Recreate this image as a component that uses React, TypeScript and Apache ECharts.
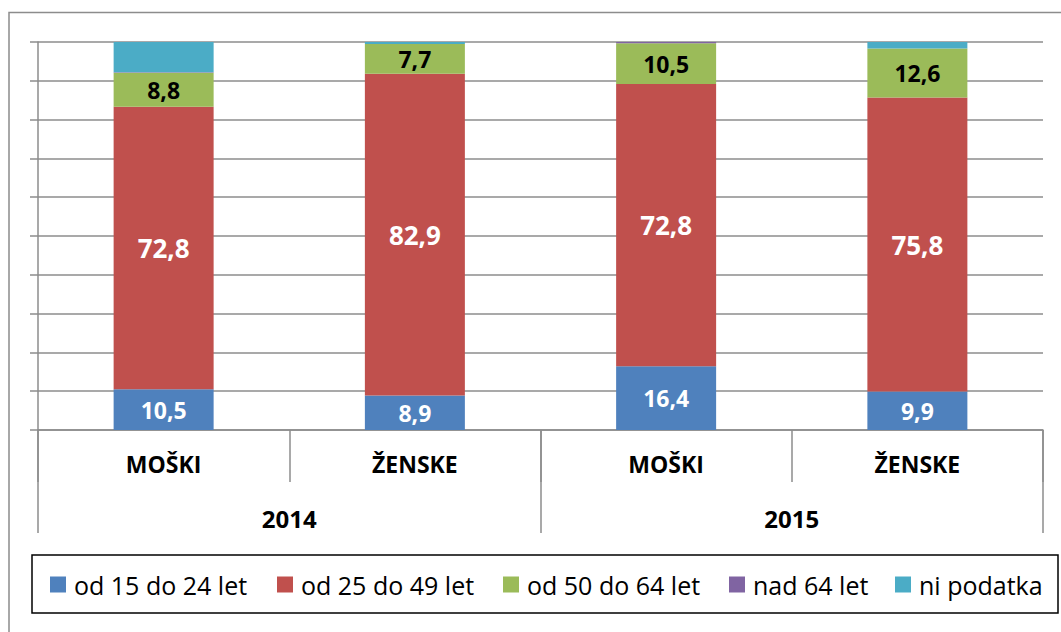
import React, { useEffect, useRef } from "react";
import * as echarts from "echarts";

const categories = ["MOŠKI", "ŽENSKE", "MOŠKI", "ŽENSKE"];
const years = ["2014", "2015"];
const seriesNames = ["od 15 do 24 let", "od 25 do 49 let", "od 50 do 64 let", "nad 64 let", "ni podatka"];
const age15to24 = [10.5, 8.9, 16.4, 9.9];
const age25to49 = [72.8, 82.9, 72.8, 75.8];
const age50to64 = [8.8, 7.7, 10.5, 12.6];
const over64 = [0.1, 0, 0.3, 0];
const noData = [7.8, 0.5, 0, 1.7];
const yTicks = [0, 10, 20, 30, 40, 50, 60, 70, 80, 90, 100];

const colors = ["#4F81BD", "#C0504D", "#9BBB59", "#8064A2", "#4BACC6"];
const FONT = "'Open Sans', sans-serif";

export default function App() {
  const ref = useRef<HTMLDivElement>(null);
  useEffect(() => {
    document.body.style.margin = "0";
    const chart = echarts.init(ref.current!, null, { renderer: "svg" });
    const values = [age15to24, age25to49, age50to64, over64, noData];
    const labelStyles = [
      { show: true, color: "#fff", fontSize: 23, fontWeight: "bold" },
      { show: true, color: "#fff", fontSize: 26, fontWeight: "bold" },
      { show: true, color: "#000", fontSize: 23, fontWeight: "bold" },
      { show: false },
      { show: false },
    ];
    const legendLefts = [50, 277, 503, 729, 895];
    const gray = "#8c8c8c";
    chart.setOption({
      animation: false,
      textStyle: { fontFamily: FONT },
      grid: { left: 38, right: 18, top: 42, bottom: 202, containLabel: false },
      legend: seriesNames.map((n, i) => ({
        data: [n],
        left: legendLefts[i],
        top: 572,
        padding: 0,
        icon: "rect",
        itemWidth: 16,
        itemHeight: 16,
        textStyle: { fontFamily: FONT, fontSize: 25, color: "#000", padding: [0, 0, 0, 3] },
      })),
      xAxis: [
        {
          type: "category",
          data: categories,
          position: "bottom",
          axisLine: { show: true, lineStyle: { color: gray, width: 1.5 } },
          axisTick: { show: true, interval: 0, length: 52, lineStyle: { color: gray, width: 1.5 } },
          axisLabel: { interval: 0, margin: 22, fontSize: 23, fontWeight: "bold", color: "#000", fontFamily: FONT },
        },
        {
          type: "category",
          data: years,
          position: "bottom",
          axisLine: { show: false },
          axisTick: { show: true, interval: 0, length: 103, lineStyle: { color: gray, width: 1.5 } },
          axisLabel: { interval: 0, margin: 76, fontSize: 24, fontWeight: "bold", color: "#000", fontFamily: FONT },
        },
      ],
      yAxis: {
        type: "value",
        min: yTicks[0],
        max: yTicks[yTicks.length - 1],
        interval: 10,
        axisLine: { show: true, lineStyle: { color: gray, width: 1.5 } },
        axisTick: { show: true, length: 8, lineStyle: { color: gray, width: 1.5 } },
        axisLabel: { show: false },
        splitLine: { show: true, lineStyle: { color: gray, width: 1.5 } },
      },
      series: seriesNames.map((n, i) => ({
        name: n,
        type: "bar",
        stack: "total",
        xAxisIndex: 0,
        barWidth: 100,
        data: values[i],
        itemStyle: { color: colors[i] },
        label: {
          ...labelStyles[i],
          position: "inside",
          fontFamily: FONT,
          formatter: (p: any) => String(p.value).replace(".", ","),
        },
      })),
      graphic: [
        {
          type: "rect",
          shape: { x: 9, y: 12.5, width: 1200, height: 800 },
          style: { fill: "none", stroke: gray, lineWidth: 1.5 },
          silent: true,
        },
        {
          type: "rect",
          shape: { x: 32, y: 555, width: 1026, height: 58 },
          style: { fill: "none", stroke: "#000", lineWidth: 1.5 },
          silent: true,
        },
      ],
    });
    return () => chart.dispose();
  }, []);
  return <div ref={ref} style={{ width: 1061, height: 632 }} />;
}
